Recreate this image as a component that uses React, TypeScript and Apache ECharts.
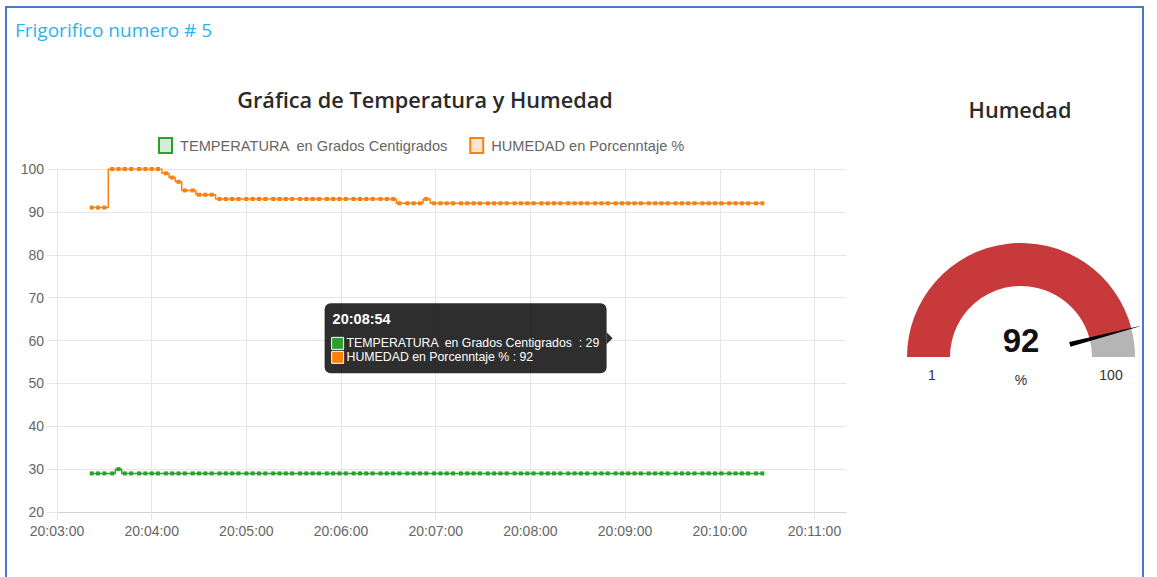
import React, { useEffect, useRef } from "react";
import * as echarts from "echarts";

// ---------- data ----------
const times: string[] = [
  "20:03:22", "20:03:26", "20:03:30", "20:03:35", "20:03:39", "20:03:43", "20:03:47", "20:03:52", "20:03:56", "20:04:00",
  "20:04:04", "20:04:09", "20:04:13", "20:04:17", "20:04:21", "20:04:26", "20:04:30", "20:04:34", "20:04:38", "20:04:43",
  "20:04:47", "20:04:51", "20:04:55", "20:05:00", "20:05:04", "20:05:08", "20:05:12", "20:05:17", "20:05:21", "20:05:25",
  "20:05:29", "20:05:34", "20:05:38", "20:05:42", "20:05:46", "20:05:51", "20:05:55", "20:05:59", "20:06:03", "20:06:08",
  "20:06:12", "20:06:16", "20:06:20", "20:06:25", "20:06:29", "20:06:33", "20:06:37", "20:06:42", "20:06:46", "20:06:50",
  "20:06:54", "20:06:59", "20:07:03", "20:07:07", "20:07:11", "20:07:16", "20:07:20", "20:07:24", "20:07:28", "20:07:33",
  "20:07:37", "20:07:41", "20:07:45", "20:07:50", "20:07:54", "20:07:58", "20:08:02", "20:08:07", "20:08:11", "20:08:15",
  "20:08:19", "20:08:24", "20:08:28", "20:08:32", "20:08:36", "20:08:41", "20:08:45", "20:08:49", "20:08:54", "20:08:58",
  "20:09:02", "20:09:06", "20:09:10", "20:09:15", "20:09:19", "20:09:23", "20:09:27", "20:09:32", "20:09:36", "20:09:40",
  "20:09:44", "20:09:49", "20:09:53", "20:09:57", "20:10:01", "20:10:06", "20:10:10", "20:10:14", "20:10:18", "20:10:23",
  "20:10:27",
];

const temperature: number[] = [
  29, 29, 29, 29, 30, 29, 29, 29, 29, 29,
  29, 29, 29, 29, 29, 29, 29, 29, 29, 29,
  29, 29, 29, 29, 29, 29, 29, 29, 29, 29,
  29, 29, 29, 29, 29, 29, 29, 29, 29, 29,
  29, 29, 29, 29, 29, 29, 29, 29, 29, 29,
  29, 29, 29, 29, 29, 29, 29, 29, 29, 29,
  29, 29, 29, 29, 29, 29, 29, 29, 29, 29,
  29, 29, 29, 29, 29, 29, 29, 29, 29, 29,
  29, 29, 29, 29, 29, 29, 29, 29, 29, 29,
  29, 29, 29, 29, 29, 29, 29, 29, 29, 29,
  29,
];

const humidity: number[] = [
  91, 91, 91, 100, 100, 100, 100, 100, 100, 100,
  100, 99, 98, 97, 95, 95, 94, 94, 94, 93,
  93, 93, 93, 93, 93, 93, 93, 93, 93, 93,
  93, 93, 93, 93, 93, 93, 93, 93, 93, 93,
  93, 93, 93, 93, 93, 93, 92, 92, 92, 92,
  93, 92, 92, 92, 92, 92, 92, 92, 92, 92,
  92, 92, 92, 92, 92, 92, 92, 92, 92, 92,
  92, 92, 92, 92, 92, 92, 92, 92, 92, 92,
  92, 92, 92, 92, 92, 92, 92, 92, 92, 92,
  92, 92, 92, 92, 92, 92, 92, 92, 92, 92,
  92,
];

const seriesNames = ["TEMPERATURA  en Grados Centigrados ", "HUMEDAD en Porcenntaje %"];
const seriesColors = ["#2ca02c", "#ff7f0e"];
const seriesFills = ["rgba(44,160,44,0.2)", "rgba(255,127,14,0.2)"];

const axisStart = "20:03:00";
const axisEndLabel = "20:11:00";
const axisEndPlot = "20:11:20";
const yMin = 20;
const yMax = 100;
const yStep = 10;

const tooltipTime = "20:08:54";

const gaugeMin = 1;
const gaugeMax = 100;
const gaugeUnit = "%";

const cardTitle = "Frigorifico numero # 5";
const chartTitle = "Gráfica de Temperatura y Humedad";
const gaugeTitle = "Humedad";

// ---------- helpers ----------
const toSec = (t: string) => {
  const [h, m, s] = t.split(":").map(Number);
  return h * 3600 + m * 60 + s;
};
const base = toSec(axisStart);
const rel = (t: string) => toSec(t) - base;
const fmt = (v: number) => {
  const total = base + v;
  const h = Math.floor(total / 3600);
  const m = Math.floor((total % 3600) / 60);
  const s = total % 60;
  const p = (n: number) => String(n).padStart(2, "0");
  return `${p(h)}:${p(m)}:${p(s)}`;
};

const CHART_FONT = "'Liberation Sans', Arial, sans-serif";
const PAGE_FONT = "'Open Sans', 'Noto Sans', sans-serif";
const GRID_COLOR = "#e6e6e6";

export default function App() {
  const ref = useRef<HTMLDivElement>(null);

  useEffect(() => {
    if (!ref.current) return;
    const chart = echarts.init(ref.current, null, { renderer: "svg" });

    const xs = times.map(rel);
    const plotLeft = 57;
    const plotTop = 169;
    const plotHeight = 343;
    const plotWidth = 789;
    const labelMax = rel(axisEndLabel);
    const plotMax = rel(axisEndPlot);
    const labelWidth = (plotWidth * labelMax) / plotMax;

    const lastHum = humidity[humidity.length - 1];

    const option: any = {
      animation: false,
      backgroundColor: "#fff",
      legend: {
        left: 158,
        top: 137,
        padding: 0,
        icon: "rect",
        itemWidth: 13,
        itemHeight: 15,
        itemGap: 17,
        selectedMode: false,
        textStyle: { fontSize: 14.6, color: "#666", fontFamily: CHART_FONT, padding: [0, 0, 0, 3] },
        data: seriesNames.map((n, i) => ({
          name: n,
          itemStyle: { color: seriesFills[i], borderColor: seriesColors[i], borderWidth: 2 },
        })),
      },
      grid: [
        { left: plotLeft, top: plotTop, width: plotWidth, height: plotHeight },
        { left: plotLeft, top: plotTop, width: labelWidth, height: plotHeight },
      ],
      xAxis: [
        {
          gridIndex: 0,
          type: "value",
          min: 0,
          max: plotMax,
          axisLine: { show: true, lineStyle: { color: "#d2d2d2", width: 1 } },
          axisTick: { show: false },
          axisLabel: { show: false },
          splitLine: { show: false },
        },
        {
          gridIndex: 1,
          type: "value",
          min: 0,
          max: labelMax,
          interval: 60,
          axisLine: { show: false },
          axisTick: { show: true, length: 8, lineStyle: { color: GRID_COLOR } },
          axisLabel: {
            formatter: (v: number) => fmt(v),
            color: "#666",
            fontSize: 14,
            fontFamily: CHART_FONT,
            margin: 12,
          },
          splitLine: { show: true, lineStyle: { color: GRID_COLOR } },
        },
      ],
      yAxis: [
        {
          gridIndex: 0,
          type: "value",
          min: yMin,
          max: yMax,
          interval: yStep,
          axisLine: { show: false },
          axisTick: { show: true, length: 10, lineStyle: { color: GRID_COLOR } },
          axisLabel: { color: "#666", fontSize: 14, fontFamily: CHART_FONT, margin: 13 },
          splitLine: { show: true, lineStyle: { color: GRID_COLOR } },
        },
        { gridIndex: 1, type: "value", min: yMin, max: yMax, show: false, splitLine: { show: false } },
      ],
      series: [
        {
          name: seriesNames[0],
          type: "line",
          xAxisIndex: 0,
          yAxisIndex: 0,
          step: "middle",
          symbol: "rect",
          symbolSize: 4,
          showSymbol: true,
          lineStyle: { color: seriesColors[0], width: 1.5 },
          itemStyle: { color: seriesColors[0] },
          data: xs.map((x, i) => [x, temperature[i]]),
        },
        {
          name: seriesNames[1],
          type: "line",
          xAxisIndex: 0,
          yAxisIndex: 0,
          step: "middle",
          symbol: "rect",
          symbolSize: 4,
          showSymbol: true,
          lineStyle: { color: seriesColors[1], width: 1.5 },
          itemStyle: { color: seriesColors[1] },
          data: xs.map((x, i) => [x, humidity[i]]),
        },
        {
          type: "gauge",
          center: [1021, 357],
          radius: 114,
          startAngle: 180,
          endAngle: 0,
          min: gaugeMin,
          max: gaugeMax,
          axisLine: {
            lineStyle: {
              width: 43,
              color: [
                [(lastHum - gaugeMin) / (gaugeMax - gaugeMin), "#c7393b"],
                [1, "#b5b5b5"],
              ],
            },
          },
          splitLine: { show: false },
          axisTick: { show: false },
          axisLabel: { show: false },
          anchor: { show: false },
          title: { show: false },
          pointer: {
            icon: "path://M4.6 0 L5.4 0 L10 59 L0 59 Z M5 100 L5 100",
            length: 123,
            width: 5,
            itemStyle: { color: "#000" },
          },
          detail: {
            offsetCenter: [0, -17],
            fontSize: 33,
            fontWeight: "bold",
            color: "#111",
            fontFamily: CHART_FONT,
            formatter: "{value}",
          },
          data: [{ value: lastHum }],
        },
      ],
    };

    chart.setOption(option);

    const idx = times.indexOf(tooltipTime);
    const p1 = chart.convertToPixel({ seriesIndex: 0 }, [xs[idx], temperature[idx]]) as number[];
    const p2 = chart.convertToPixel({ seriesIndex: 1 }, [xs[idx], humidity[idx]]) as number[];
    const tipX = p1[0] - 3;
    const tipY = (p1[1] + p2[1]) / 2;
    const tw = 282;
    const th = 70;
    const rRight = tipX - 6;
    const rLeft = rRight - tw;
    const rTop = tipY - th / 2;

    const txt = (x: number, y: number, text: string, extra: any = {}) => ({
      type: "text",
      x,
      y,
      style: {
        text,
        fill: extra.fill || "#333",
        fontSize: extra.fontSize || 14,
        fontFamily: extra.fontFamily || CHART_FONT,
        fontWeight: extra.fontWeight || "normal",
        textAlign: extra.align || "left",
        textVerticalAlign: "middle",
        align: extra.align || "left",
        verticalAlign: "middle",
      },
    });

    const graphic: any[] = [
      {
        type: "rect",
        shape: { x: 6, y: 7, width: 1137, height: 600 },
        style: { fill: "none", stroke: "#4a78c8", lineWidth: 2 },
        silent: true,
      },
      txt(15, 30, cardTitle, { fill: "#2fb2f0", fontSize: 19, fontFamily: PAGE_FONT }),
      txt(425, 99.5, chartTitle, { fill: "#2a2a2a", fontSize: 21.7, fontWeight: 600, fontFamily: PAGE_FONT, align: "center" }),
      txt(1020, 109.5, gaugeTitle, { fill: "#2a2a2a", fontSize: 21.7, fontWeight: 600, fontFamily: PAGE_FONT, align: "center" }),
      txt(932, 375, String(gaugeMin), { fill: "#333", fontSize: 14, align: "center" }),
      txt(1111, 375, String(gaugeMax), { fill: "#333", fontSize: 14, align: "center" }),
      txt(1021, 380, gaugeUnit, { fill: "#333", fontSize: 14, align: "center" }),
      {
        type: "group",
        children: [
          {
            type: "rect",
            shape: { x: rLeft, y: rTop, width: tw, height: th, r: 6 },
            style: { fill: "rgba(0,0,0,0.82)" },
          },
          {
            type: "polygon",
            shape: { points: [[rRight, tipY - 6], [tipX, tipY], [rRight, tipY + 6]] },
            style: { fill: "rgba(0,0,0,0.82)" },
          },
          txt(rLeft + 8, rTop + 16, tooltipTime, { fill: "#fff", fontSize: 14.5, fontWeight: "bold" }),
          {
            type: "rect",
            shape: { x: rLeft + 7, y: rTop + 34, width: 12, height: 12 },
            style: { fill: seriesColors[0], stroke: "#fff", lineWidth: 1 },
          },
          {
            type: "rect",
            shape: { x: rLeft + 7, y: rTop + 48, width: 12, height: 12 },
            style: { fill: seriesColors[1], stroke: "#fff", lineWidth: 1 },
          },
          txt(rLeft + 22, rTop + 40, `${seriesNames[0]} : ${temperature[idx]}`, { fill: "#fff", fontSize: 12.3 }),
          txt(rLeft + 22, rTop + 54, `${seriesNames[1]} : ${humidity[idx]}`, { fill: "#fff", fontSize: 12.3 }),
        ],
      },
    ];

    chart.setOption({ graphic });

    return () => chart.dispose();
  }, []);

  return (
    <div
      ref={ref}
      style={{ position: "fixed", left: 0, top: 0, width: 1157, height: 577, background: "#fff" }}
    />
  );
}
